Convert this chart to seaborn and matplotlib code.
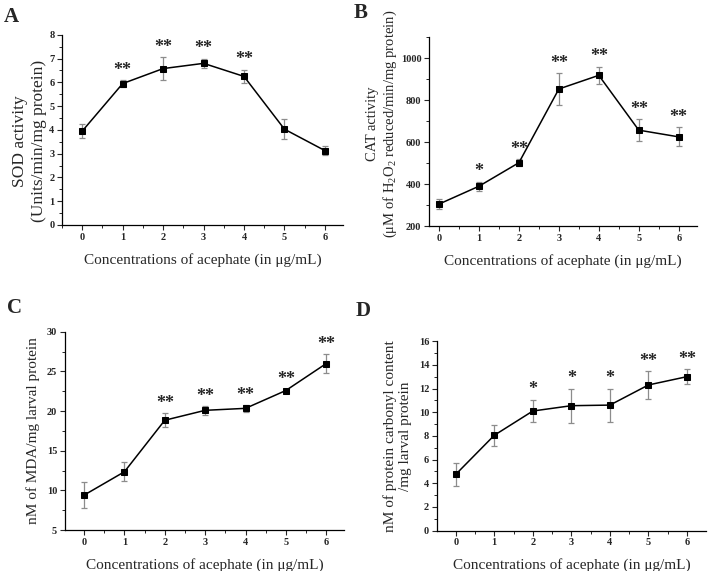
import numpy as np
import pandas as pd
import matplotlib
matplotlib.use("Agg")
import matplotlib.pyplot as plt
from matplotlib.ticker import AutoMinorLocator, MultipleLocator
import seaborn as sns

conc = [0, 1, 2, 3, 4, 5, 6]

sod = [3.95, 5.95, 6.58, 6.80, 6.25, 4.03, 3.13]
sod_err = [0.30, 0.15, 0.47, 0.20, 0.28, 0.42, 0.20]
sod_sig = ["", "**", "**", "**", "**", "", ""]

cat = [305, 390, 502, 853, 918, 657, 625]
cat_err = [25, 22, 18, 75, 42, 52, 45]
cat_sig = ["", "*", "**", "**", "**", "**", "**"]

mda = [9.4, 12.35, 18.85, 20.1, 20.35, 22.6, 26.0]
mda_err = [1.6, 1.2, 0.9, 0.55, 0.4, 0.15, 1.2]
mda_sig = ["", "", "**", "**", "**", "**", "**"]

pcc = [4.75, 8.05, 10.1, 10.55, 10.6, 12.3, 13.0]
pcc_err = [1.0, 0.9, 0.95, 1.45, 1.4, 1.15, 0.65]
pcc_sig = ["", "", "*", "*", "*", "**", "**"]

sns.set_theme(style="ticks")
plt.rcParams["font.family"] = ["Liberation Serif", "DejaVu Serif"]
plt.rcParams["mathtext.fontset"] = "custom"
plt.rcParams["mathtext.rm"] = "Liberation Serif"
plt.rcParams["mathtext.it"] = "Liberation Serif:italic"
plt.rcParams["mathtext.bf"] = "Liberation Serif:bold"

fig = plt.figure(figsize=(7.08, 5.71), dpi=100)

panels = [
    dict(letter="A", pos=[0.0876, 0.606, 0.397, 0.333], y=sod, err=sod_err, sig=sod_sig,
         ylim=(0, 8), major=1, xlim=(-0.5, 6.45),
         ylabel="SOD activity\n(Units/min/mg protein)", yfs=12.5, lcoords=(-0.055, 0.44),
         lx=0.005, ly=0.988),
    dict(letter="B", pos=[0.606, 0.604, 0.378, 0.331], y=cat, err=cat_err, sig=cat_sig,
         ylim=(200, 1100), major=200, xlim=(-0.25, 6.45),
         ylabel="CAT activity\n(μM of H$_2$O$_2$ reduced/min/mg protein)", yfs=10.5,
         lcoords=(-0.112, 0.54), lx=0.500, ly=0.995),
    dict(letter="C", pos=[0.0914, 0.0718, 0.395, 0.347], y=mda, err=mda_err, sig=mda_sig,
         ylim=(5, 30), major=5, xlim=(-0.48, 6.45),
         ylabel="nM of MDA/mg larval protein", yfs=11, lcoords=None, lx=0.010, ly=0.478),
    dict(letter="D", pos=[0.617, 0.0706, 0.380, 0.332], y=pcc, err=pcc_err, sig=pcc_sig,
         ylim=(0, 16), major=2, xlim=(-0.49, 6.49),
         ylabel="nM of protein carbonyl content\n/mg larval protein", yfs=11, lcoords=None,
         lx=0.503, ly=0.472),
]

for p in panels:
    ax = fig.add_axes(p["pos"])
    df = pd.DataFrame({"conc": conc, "val": p["y"]})
    ax.errorbar(conc, p["y"], yerr=p["err"], fmt="none", ecolor="#8c8c8c",
                elinewidth=0.9, capsize=2.5, capthick=0.9, zorder=1)
    sns.lineplot(data=df, x="conc", y="val", ax=ax, color="black", linewidth=1.1,
                 marker="s", markersize=4.5, markeredgecolor="black", zorder=3)
    for xi, yi, ei, s in zip(conc, p["y"], p["err"], p["sig"]):
        if s:
            ax.annotate(s, (xi, yi + ei), xytext=(0, 1), textcoords="offset points",
                        ha="center", va="bottom", fontsize=13, fontweight="bold")
    ax.set_xlim(*p["xlim"])
    ax.set_ylim(*p["ylim"])
    ax.xaxis.set_major_locator(MultipleLocator(1))
    ax.yaxis.set_major_locator(MultipleLocator(p["major"]))
    ax.xaxis.set_minor_locator(AutoMinorLocator(2))
    ax.yaxis.set_minor_locator(AutoMinorLocator(2))
    ax.tick_params(which="major", direction="out", length=3.5, width=0.8, labelsize=7.5, pad=2)
    ax.tick_params(which="minor", direction="out", length=2, width=0.7)
    for lab in ax.get_xticklabels() + ax.get_yticklabels():
        lab.set_fontweight("bold")
    for side in ["top", "right"]:
        ax.spines[side].set_visible(False)
    for side in ["left", "bottom"]:
        ax.spines[side].set_linewidth(0.9)
        ax.spines[side].set_color("black")
    ax.set_xlabel("Concentrations of acephate (in μg/mL)", fontsize=11, labelpad=8)
    ax.set_ylabel(p["ylabel"], fontsize=p["yfs"], labelpad=5)
    if p["lcoords"] is not None:
        ax.yaxis.set_label_coords(*p["lcoords"])
    fig.text(p["lx"], p["ly"], p["letter"], fontsize=15, fontweight="bold", va="top", ha="left")

fig.savefig("out.png", dpi=100)
